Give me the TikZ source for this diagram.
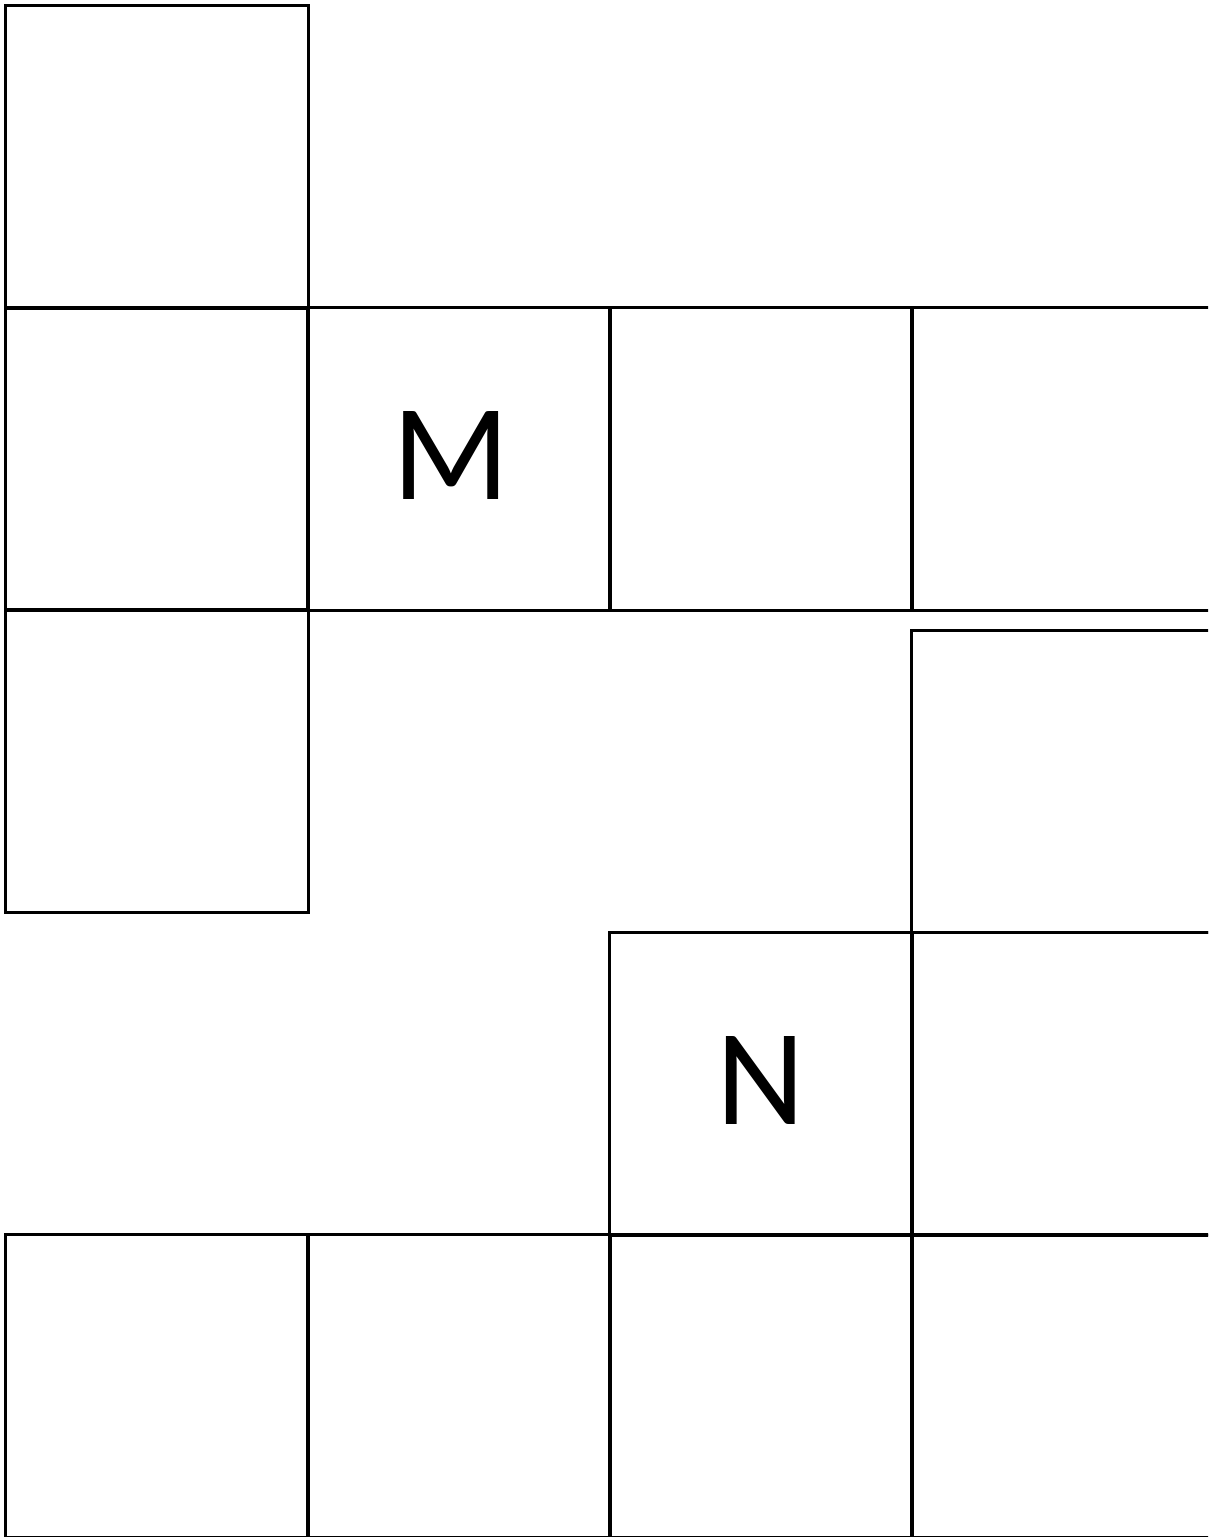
\documentclass[tikz,border=0pt]{standalone}
\usepackage{fontspec}
\setmainfont{Carlito}
\usepackage{tikz}
\usetikzlibrary{positioning}

\tikzset{
    cell/.style={
        draw=black,
        line width=0.85pt,
        minimum size=3.02cm,
        inner sep=0pt,
        outer sep=0pt,
        font=\fontsize{39}{39}\selectfont
    }
}
\newcommand{\celltext}[1]{\raisebox{0.07cm}{#1}}

\begin{document}
\begin{tikzpicture}[x=0.01cm,y=-0.01cm]
        \useasboundingbox (0,0) rectangle (1208,1537);
        \clip (0,0) rectangle (1208,1537);
        % left column
        \node[cell] (top) at (157,157) {};
        \node[cell] (left) at (157,459) {};
        \node[cell] (under) at (157,761) {};
        % middle row
        \node[cell] (cellM) at (459,459) {\celltext{M}\kern0.16cm};
        \node[cell] (midC) at (761,459) {};
        \node[cell] (midD) at (1063,459) {};
        % right column, shifted down
        \node[cell] (side) at (1063,781.5) {};
        \node[cell] (cellN) at (761,1084) {\celltext{N}};
        \node[cell] (sideB) at (1063,1084) {};
        % bottom row
        \node[cell] (botA) at (157,1386) {};
        \node[cell] (botB) at (459,1386) {};
        \node[cell] (botC) at (761,1386) {};
        \node[cell] (botD) at (1063,1386) {};
    \end{tikzpicture}
\end{document}
